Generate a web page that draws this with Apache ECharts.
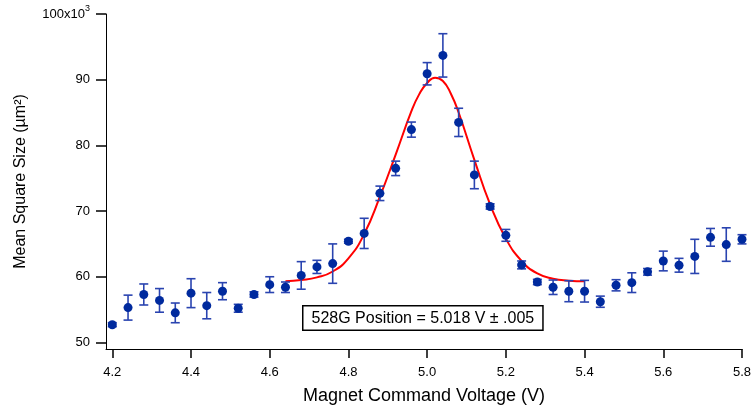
<!DOCTYPE html>
<html>
<head>
<meta charset="utf-8">
<script src="https://cdn.jsdelivr.net/npm/echarts@6/dist/echarts.min.js"></script>
<style>
html,body{margin:0;padding:0;background:#fff;}
#chart{width:753px;height:410px;}
</style>
</head>
<body>
<div id="chart"></div>
<script>
// Magnet command voltage (V)
var voltages = [4.20,4.24,4.28,4.32,4.36,4.40,4.44,4.48,4.52,4.56,4.60,4.64,4.68,4.72,4.76,4.80,4.84,4.88,4.92,4.96,5.00,5.04,5.08,5.12,5.16,5.20,5.24,5.28,5.32,5.36,5.40,5.44,5.48,5.52,5.56,5.60,5.64,5.68,5.72,5.76,5.80];
// Mean square size (x10^3 µm²)
var meanSize = [52.7,55.3,57.3,56.4,54.5,57.5,55.6,57.8,55.2,57.3,58.8,58.4,60.2,61.5,62.0,65.4,66.6,72.7,76.5,82.4,90.9,93.7,83.5,75.5,70.7,66.3,61.8,59.2,58.4,57.8,57.8,56.2,58.7,59.1,60.75,62.4,61.75,63.1,66.0,64.9,65.7];
// Error (± x10^3 µm²)
var errSize = [0.3,1.9,1.6,1.8,1.5,2.2,2.0,1.3,0.6,0.4,1.2,0.8,2.1,1.0,3.0,0.3,2.3,1.1,1.1,1.15,1.7,3.3,2.15,2.1,0.4,0.9,0.6,0.4,1.1,1.6,1.65,0.85,0.85,1.5,0.5,1.5,1.05,2.6,1.35,2.55,0.7];
// Fit curve
var fitX = [4.64,4.68,4.72,4.76,4.80,4.84,4.88,4.92,4.96,4.98,5.00,5.02,5.04,5.06,5.08,5.12,5.16,5.20,5.24,5.28,5.32,5.36,5.40];
var fitY = [59.3,59.5,59.9,60.8,62.8,66.5,72.2,78.6,85.2,87.8,89.5,90.3,89.8,87.9,85.0,77.8,71.0,65.8,62.4,60.5,59.7,59.4,59.3];
// Tick labels
var xTicks = [4.2,4.4,4.6,4.8,5.0,5.2,5.4,5.6,5.8];
var yTicks = [50,60,70,80,90,100];
var annotation = '528G Position = 5.018 V ± .005';

var pts = voltages.map(function(v,i){return [v, meanSize[i]];});
var errs = voltages.map(function(v,i){return [v, meanSize[i]-errSize[i], meanSize[i]+errSize[i]];});
var fit = fitX.map(function(v,i){return [v, fitY[i]];});

var FONT = '"Liberation Sans", Arial, sans-serif';
var chart = echarts.init(document.getElementById('chart'), null, {renderer:'canvas'});
chart.setOption({
  animation:false,
  backgroundColor:'#fff',
  grid:{left:106,right:11,top:14,bottom:61,containLabel:false,outerBoundsMode:'none'},
  xAxis:{
    type:'value', min:4.184, max:5.8,
    name:'Magnet Command Voltage (V)', nameLocation:'middle', nameGap:38,
    nameTextStyle:{fontFamily:FONT,fontSize:18,color:'#000'},
    axisLine:{onZero:false,lineStyle:{color:'#000',width:1}},
    axisTick:{show:true,length:9,inside:false,customValues:xTicks,lineStyle:{color:'#000',width:1.5}},
    axisLabel:{customValues:xTicks,fontFamily:FONT,fontSize:13,color:'#000',margin:17,
      formatter:function(v){return v.toFixed(1);}},
    splitLine:{show:false}
  },
  yAxis:{
    type:'value', min:49.0, max:100,
    name:'Mean Square Size (µm²)', nameLocation:'middle', nameGap:77,
    nameTextStyle:{fontFamily:FONT,fontSize:16,color:'#000'},
    axisLine:{show:true,onZero:false,lineStyle:{color:'#000',width:1}},
    axisTick:{show:true,length:10,customValues:yTicks,lineStyle:{color:'#000',width:1.5}},
    axisLabel:{customValues:yTicks,fontFamily:FONT,fontSize:13,color:'#000',margin:16,
      formatter:function(v){return v===100?'{a|100x10}{s|3}':String(v);},
      rich:{a:{fontFamily:FONT,fontSize:13,color:'#000'},s:{fontFamily:FONT,fontSize:9,color:'#000',padding:[0,0,10,0]}}},
    splitLine:{show:false}
  },
  series:[
    {
      type:'line', data:fit, smooth:0.5, showSymbol:false, symbol:'none',
      lineStyle:{color:'#ff0000',width:2}, z:3, clip:false
    },
    {
      type:'custom', data:errs, z:4, clip:false,
      encode:{x:0,y:[1,2]},
      renderItem:function(params, api){
        var x=api.value(0), lo=api.value(1), hi=api.value(2);
        var a=api.coord([x,hi]), b=api.coord([x,lo]);
        var w=4.5, st={stroke:'#2a44b0',lineWidth:1.6};
        return {type:'group',children:[
          {type:'line',shape:{x1:a[0],y1:a[1],x2:b[0],y2:b[1]},style:st},
          {type:'line',shape:{x1:a[0]-w,y1:a[1],x2:a[0]+w,y2:a[1]},style:st},
          {type:'line',shape:{x1:b[0]-w,y1:b[1],x2:b[0]+w,y2:b[1]},style:st}
        ]};
      }
    },
    {
      type:'scatter', data:pts, symbol:'circle', symbolSize:9, z:5, clip:false,
      itemStyle:{color:'#002a9e',opacity:1}
    }
  ],
  graphic:[
    {type:'text', left:302, top:305, z:10,
      style:{text:annotation, fontFamily:FONT, fontSize:16, fill:'#000',
        backgroundColor:'#fff', borderColor:'#000', borderWidth:1.5, padding:[4,8,3,8]}}
  ]
});
</script>
</body>
</html>
